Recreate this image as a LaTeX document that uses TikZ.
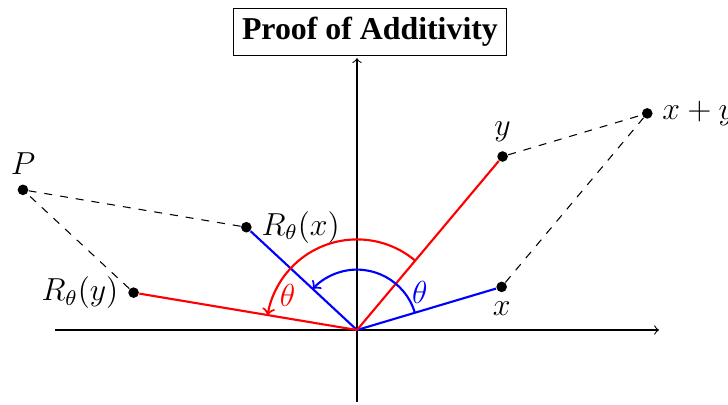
\documentclass[tikz,border=0pt]{standalone}
\usepackage{fontspec}
\newfontfamily\titlefont{Liberation Serif}
\usetikzlibrary{calc}
\begin{document}
\begin{tikzpicture}[>=to, every node/.style={font=\large},
  dot/.style={circle, fill=black, inner sep=0pt, minimum size=4pt},
  vec/.style={thick}]
  \useasboundingbox (-4.728,-0.993) rectangle (4.914,4.371);
  % axes
  \draw[->] (-4,0) -- (4,0);
  \draw[->] (0,-0.95) -- (0,3.6);
  \node[draw, fill=white, font=\titlefont\large\bfseries] (title) at (0.172,3.947) {Proof of Additivity};
  % vectors and their rotations
  \coordinate (O) at (0,0);
  \node[dot, label={below:$x$}] (x) at (16.6:2) {};
  \node[dot, label={above:$y$}] (y) at (50:3) {};
  \node[dot, label={right:$x+y$}] (xy) at ($(16.6:2)+(50:3)$) {};
  \node[dot, label={right:$R_\theta(x)$}] (rx) at (137.1:2) {};
  \node[dot, label={left:$R_\theta(y)$}] (ry) at (170.5:3) {};
  \node[dot, label={above:$P$}] (p) at ($(137.1:2)+(170.5:3)$) {};
  \draw[vec, blue] (O) -- (x);
  \draw[vec, red] (O) -- (y);
  \draw[vec, blue] (O) -- (rx);
  \draw[vec, red] (O) -- (ry);
  \draw[dashed] (y) -- (xy) (x) -- (xy);
  \draw[dashed] (rx) -- (p) (ry) -- (p);
  % angles
  \draw[vec, blue, ->] (16.6:0.8) arc[start angle=16.6, end angle=137.1, radius=0.8];
  \draw[vec, red, ->] (50:1.2) arc[start angle=50, end angle=170.5, radius=1.2];
  \node[blue] (tb) at (0.834,0.503) {$\theta$};
  \node[red] (tr) at (-0.92,0.46) {$\theta$};
\end{tikzpicture}
\end{document}
